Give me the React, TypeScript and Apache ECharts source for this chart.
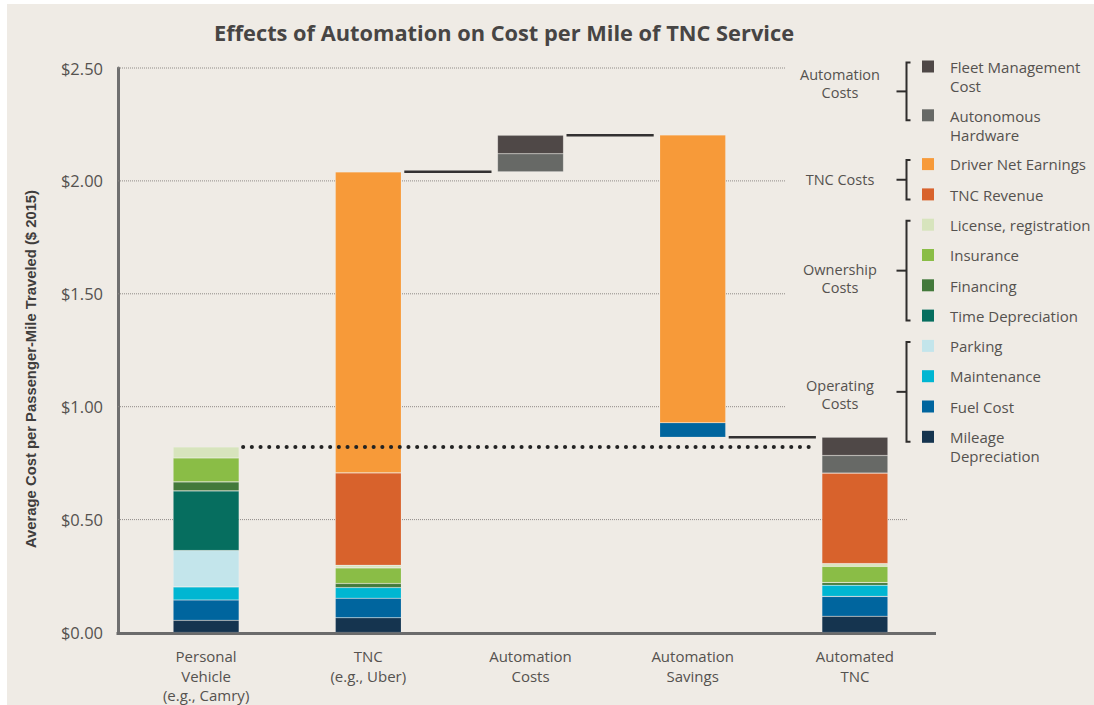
import React, { useEffect, useRef } from "react";
import * as echarts from "echarts";

// ---------- DATA ----------
const categories = [
  "Personal\nVehicle\n(e.g., Camry)",
  "TNC\n(e.g., Uber)",
  "Automation\nCosts",
  "Automation\nSavings",
  "Automated\nTNC",
];

// $ per passenger-mile, stacked bottom -> top
const mileageDepreciation = [0.054, 0.065, 0, 0, 0.072];
const fuelCost = [0.09, 0.087, 0, 0.064, 0.088];
const maintenance = [0.058, 0.047, 0, 0, 0.049];
const parking = [0.161, 0, 0, 0, 0];
const timeDepreciation = [0.264, 0, 0, 0, 0];
const financing = [0.04, 0.018, 0, 0, 0.012];
const insurance = [0.106, 0.069, 0, 0, 0.072];
const licenseRegistration = [0.049, 0.012, 0, 0, 0.012];
const tncRevenue = [0, 0.409, 0, 0, 0.401];
const driverNetEarnings = [0, 1.333, 0, 1.274, 0];
const autonomousHardware = [0, 0, 0.08, 0, 0.078];
const fleetManagement = [0, 0, 0.082, 0, 0.081];

const yTicks = [0, 0.5, 1, 1.5, 2, 2.5];

const TITLE = "Effects of Automation on Cost per Mile of TNC Service";
const Y_NAME = "Average Cost per Passenger-Mile Traveled ($ 2015)";

// stack order bottom -> top
const stackDefs = [
  { name: "Mileage Depreciation", label: "Mileage\nDepreciation", color: "#15344f", data: mileageDepreciation },
  { name: "Fuel Cost", label: "Fuel Cost", color: "#00659e", data: fuelCost },
  { name: "Maintenance", label: "Maintenance", color: "#00b6d2", data: maintenance },
  { name: "Parking", label: "Parking", color: "#c3e5eb", data: parking },
  { name: "Time Depreciation", label: "Time Depreciation", color: "#066e5f", data: timeDepreciation },
  { name: "Financing", label: "Financing", color: "#43793b", data: financing },
  { name: "Insurance", label: "Insurance", color: "#8abd46", data: insurance },
  { name: "License, registration", label: "License, registration", color: "#d7e4bd", data: licenseRegistration },
  { name: "TNC Revenue", label: "TNC Revenue", color: "#d8622c", data: tncRevenue },
  { name: "Driver Net Earnings", label: "Driver Net Earnings", color: "#f79a39", data: driverNetEarnings },
  { name: "Autonomous Hardware", label: "Autonomous\nHardware", color: "#676966", data: autonomousHardware },
  { name: "Fleet Management Cost", label: "Fleet Management\nCost", color: "#4f4847", data: fleetManagement },
];

// legend order top -> bottom, grouped
const legendOrder = [
  "Fleet Management Cost",
  "Autonomous Hardware",
  "Driver Net Earnings",
  "TNC Revenue",
  "License, registration",
  "Insurance",
  "Financing",
  "Time Depreciation",
  "Parking",
  "Maintenance",
  "Fuel Cost",
  "Mileage Depreciation",
];
const legendGroups = [
  { label: "Automation\nCosts", first: 0, last: 1 },
  { label: "TNC Costs", first: 2, last: 3 },
  { label: "Ownership\nCosts", first: 4, last: 7 },
  { label: "Operating\nCosts", first: 8, last: 11 },
];

// ---------- LAYOUT ----------
const FONT = "'Open Sans', Lato, sans-serif";
const TEXT = "#55524f";
const GRID = { left: 125, top: 68, width: 811, height: 565 };
const Y_OFFSET = 7;
const BAR_W = 66;
const GRID_END_SHORT = 786;
const GRID_END_LONG = 907;
const LEG_SWATCH_X = 922;
const LEG_TEXT_X = 950;
const LEG_Y0 = 66.5;
const LEG_STEP = 30.3;
const LEG_LINE = 18.5;
const BRACKET_X = 906.5;
const GROUP_LABEL_X = 840;
const GROUP_LABEL_Y = [83, 179.5, 278.5, 394.5];

const total = (i: number) => stackDefs.reduce((s, d) => s + d.data[i], 0);
const baseValues = categories.map((_, i) => (i === 2 ? total(1) : i === 3 ? total(4) : 0));
const connectors = [
  [1, 2, total(1), 0],
  [2, 3, baseValues[2] + total(2), 0],
  [3, 4, baseValues[3], 0],
  [0, 4, total(0), 1],
];

export default function App() {
  const ref = useRef<HTMLDivElement>(null);

  useEffect(() => {
    if (!ref.current) return;
    const chart = echarts.init(ref.current, undefined, { renderer: "svg" });

    const barSeries: any[] = [
      {
        name: "base",
        type: "bar",
        stack: "cost",
        barWidth: BAR_W,
        silent: true,
        itemStyle: { color: "transparent" },
        data: baseValues.map((v) => (v ? v : "-")),
        z: 2,
      },
      ...stackDefs.map((d) => ({
        name: d.name,
        type: "bar",
        stack: "cost",
        barWidth: BAR_W,
        itemStyle: { color: d.color, borderColor: "rgba(255,255,255,0.25)", borderWidth: 0.6 },
        data: d.data.map((v) => (v ? v : "-")),
        z: 2,
      })),
    ];

    // legend graphics
    const legendY: number[] = [];
    let y = LEG_Y0;
    legendOrder.forEach((n) => {
      legendY.push(y);
      const d = stackDefs.find((s) => s.name === n)!;
      const lines = d.label.split("\n").length;
      y += LEG_STEP + (lines - 1) * LEG_LINE;
    });
    const graphics: any[] = [
      {
        type: "text",
        x: 504,
        y: 32,
        style: {
          text: TITLE,
          fill: "#474544",
          font: `bold 21.8px ${FONT}`,
          align: "center",
          verticalAlign: "middle",
        },
      },
      {
        type: "text",
        x: 31,
        y: 369,
        rotation: Math.PI / 2,
        style: {
          text: Y_NAME,
          fill: "#3f3d3c",
          font: `bold 14.8px 'Liberation Sans', Arial, sans-serif`,
          align: "center",
          verticalAlign: "middle",
        },
      },
    ];
    legendOrder.forEach((n, i) => {
      const d = stackDefs.find((s) => s.name === n)!;
      const cy = legendY[i];
      graphics.push({
        type: "rect",
        shape: { x: LEG_SWATCH_X, y: cy - 6, width: 12, height: 12 },
        style: { fill: d.color },
      });
      graphics.push({
        type: "text",
        x: LEG_TEXT_X,
        y: cy - LEG_LINE / 2,
        style: {
          text: d.label,
          fill: TEXT,
          font: `15px ${FONT}`,
          lineHeight: LEG_LINE + 0.5,
          align: "left",
          verticalAlign: "top",
        },
      });
    });
    legendGroups.forEach((g, gi) => {
      const top = legendY[g.first] - 4;
      const bottom = legendY[g.last] + 5;
      const mid = (top + bottom) / 2;
      graphics.push({
        type: "polyline",
        shape: {
          points: [
            [BRACKET_X + 4, top],
            [BRACKET_X, top],
            [BRACKET_X, bottom],
            [BRACKET_X + 4, bottom],
          ],
        },
        style: { stroke: "#2f2d2c", lineWidth: 2, fill: "none" },
      });
      graphics.push({
        type: "line",
        shape: { x1: BRACKET_X - 10, y1: mid, x2: BRACKET_X, y2: mid },
        style: { stroke: "#2f2d2c", lineWidth: 2 },
      });
      graphics.push({
        type: "text",
        x: GROUP_LABEL_X,
        y: GROUP_LABEL_Y[gi],
        style: {
          text: g.label,
          fill: TEXT,
          font: `14.5px ${FONT}`,
          lineHeight: 18,
          align: "center",
          verticalAlign: "middle",
        },
      });
    });

    chart.setOption({
      animation: false,
      backgroundColor: "transparent",
      grid: { ...GRID },
      xAxis: {
        type: "category",
        data: categories,
        axisLine: { show: false },
        axisTick: { show: false },
        axisLabel: {
          interval: 0,
          color: TEXT,
          fontSize: 15,
          lineHeight: 19.5,
          fontFamily: FONT,
          margin: 14,
        },
      },
      yAxis: {
        type: "value",
        min: 0,
        max: 2.5,
        interval: 0.5,
        offset: Y_OFFSET,
        axisLine: { show: true, lineStyle: { color: "#6f6f6f", width: 3 } },
        axisTick: { show: false },
        splitLine: { show: false },
        axisLabel: {
          color: TEXT,
          fontSize: 16.5,
          fontFamily: FONT,
          margin: 15,
          formatter: (v: number) => "$" + v.toFixed(2),
        },
      },
      series: [
        {
          type: "custom",
          name: "gridlines",
          z: 1,
          silent: true,
          encode: { x: 0, y: 1 },
          data: yTicks.map((v) => [0, v]),
          renderItem: (params: any, api: any) => {
            const v = api.value(1);
            const yy = api.coord([0, v])[1];
            const x1 = params.coordSys.x - Y_OFFSET;
            if (v === 0) {
              return {
                type: "line",
                z2: 100,
                shape: { x1: x1 - 1.5, y1: yy + 1, x2: params.coordSys.x + params.coordSys.width, y2: yy + 1 },
                style: { stroke: "#6b6b6b", lineWidth: 3 },
              };
            }
            return {
              type: "line",
              shape: { x1, y1: yy, x2: v <= 0.5 ? GRID_END_LONG : GRID_END_SHORT, y2: yy },
              style: { stroke: "#8f8b87", lineWidth: 1, lineDash: [1, 1] },
            };
          },
        },
        ...barSeries,
        {
          type: "custom",
          name: "connectors",
          z: 3,
          silent: true,
          encode: { x: 0, y: 2 },
          data: connectors,
          renderItem: (params: any, api: any) => {
            const v = api.value(2);
            const a = api.coord([api.value(0), v]);
            const b = api.coord([api.value(1), v]);
            const dotted = api.value(3) === 1;
            const x1 = a[0] + BAR_W / 2 + (dotted ? 4 : 3);
            const x2 = b[0] - BAR_W / 2 - 6;
            return {
              type: "line",
              shape: { x1, y1: a[1], x2, y2: a[1] },
              style: dotted
                ? { stroke: "#232323", lineWidth: 4, lineDash: [0.1, 8.6], lineCap: "round" }
                : { stroke: "#333131", lineWidth: 2.5 },
            };
          },
        },
      ],
      graphic: graphics,
    });

    return () => chart.dispose();
  }, []);

  return (
    <div style={{ position: "fixed", left: 0, top: 0, width: 1094, height: 705, background: "#ffffff" }}>
      <div style={{ position: "absolute", left: 7, top: 4, width: 1087, height: 701, background: "#efebe5" }} />
      <div ref={ref} style={{ position: "absolute", left: 0, top: 0, width: 1094, height: 705 }} />
    </div>
  );
}
